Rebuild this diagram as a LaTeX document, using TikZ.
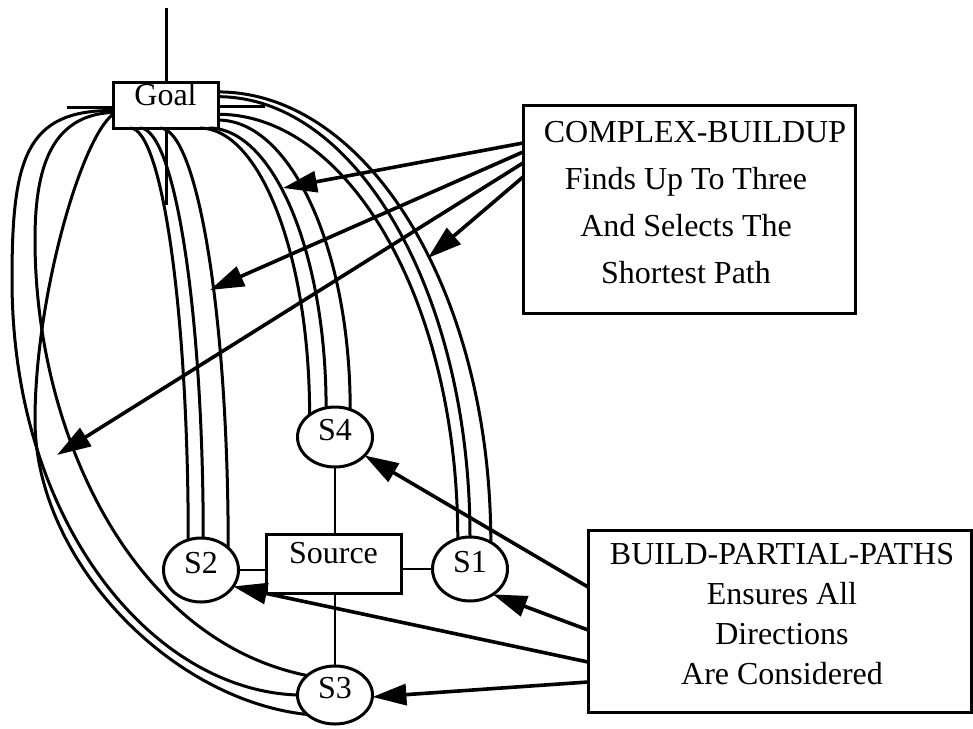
\documentclass[tikz,border=0pt]{standalone}
\usepackage{fontspec}
\setmainfont{Liberation Serif}
\usetikzlibrary{arrows.meta,calc,shapes.geometric}

\tikzset{
  box/.style={draw, line width=1.5pt, rectangle, inner sep=0pt, outer sep=0pt,
              text height=8pt, text depth=8pt},
  site/.style={draw, line width=1.5pt, ellipse, inner sep=0pt, outer sep=0pt,
               minimum width=37.5pt, text height=9pt, text depth=6pt},
  curve/.style={line width=1.5pt},
  link/.style={line width=1.1pt},
  pointer/.style={line width=1.8pt, -{Triangle[length=17pt,width=10.5pt]}},
  note/.style={align=center, inner sep=0pt},
}

% quarter-ellipse path: leaves #1 horizontally, arrives at #2 vertically
\newcommand\quarterarc[2]{%
  \draw[curve] (#1) .. controls ($(#1)!0.552!(#1 -| #2)$)
                         and ($(#2)!0.552!(#1 -| #2)$) .. (#2);}

\begin{document}
\begin{tikzpicture}[x=0.5pt, y=-0.5pt, font=\fontsize{16}{19}\selectfont]
\useasboundingbox (0,0) rectangle (973,728);

% ---- nodes
\node[box, minimum width=52.5pt, minimum height=23pt] (goal) at (165.5,105) {Goal};
\node[box, minimum width=67.5pt, minimum height=29.5pt] (source) at (333.5,563.5) {Source};
\node[site, minimum height=30pt] (s4) at (335,437) {S4};
\node[site, minimum height=32pt] (s2) at (201,570) {S2};
\node[site, minimum height=32pt] (s1) at (470,569) {S1};
\node[site, minimum height=29pt] (s3) at (335,695) {S3};

\node[box, minimum width=166pt, minimum height=104pt] (cb) at (689,209) {};
\node[note, font=\fontsize{16}{23.5}\selectfont] (cbtxt) at (686,203)
  {\hspace*{9pt}COMPLEX-BUILDUP\\Finds Up To Three\\And Selects The\hspace*{11pt}\\Shortest Path};

\node[box, minimum width=191.75pt, minimum height=91pt] (bp) at (779.75,621.5) {};
\node[note, font=\fontsize{16}{20}\selectfont] (bptxt) at (782,614)
  {BUILD-PARTIAL-PATHS\\Ensures All\\Directions\\Are Considered};

% ---- stubs around the goal
\coordinate (gtop)   at (166,8);
\coordinate (gleft)  at (67,107);
\coordinate (gright) at (265,106);
\coordinate (gdrop)  at (166,205);
\draw[curve] (gtop |- goal.north) -- (gtop);
\draw[curve] (gleft -| goal.west) -- (gleft);
\draw[curve] (gright -| goal.east) -- (gright);
\draw[curve] (gdrop |- goal.south) -- (gdrop);

% ---- source to the four sites
\draw[link] (s4.south) -- (s4.south |- source.north);
\draw[link] (source.south -| s3.north) -- (s3.north);
\draw[link] (s2.east) -- (s2.east -| source.west);
\draw[link] (s1.west -| source.east) -- (s1.west);

% ---- paths goal -> S1
\quarterarc{goal.14}{s1.52}
\quarterarc{goal.9}{s1.90}
\quarterarc{goal.-10}{s1.112}

% ---- paths goal -> S4
\quarterarc{goal.-16}{s4.61}
\quarterarc{goal.-28}{s4.107}
\quarterarc{goal.-34}{s4.139}

% ---- paths goal -> S2
\quarterarc{goal.-147}{s2.113}
\quarterarc{goal.-138}{s2.86}
\quarterarc{goal.-104}{s2.39}

% ---- paths goal -> S3, around the left side
\draw[curve] (goal.186) .. controls (25,110) and (12,160) .. (12,280)
                        .. controls (12,520) and (150,690) .. (s3.180);
\draw[curve] (goal.188) .. controls (50,115) and (35,170) .. (35,240)
                        .. controls (35,430) and (130,640) .. (s3.145);
\draw[curve] (goal.190) .. controls (80,140) and (35,300) .. (35,420)
                        .. controls (35,560) and (170,700) .. (s3.215);

% ---- COMPLEX-BUILDUP pointers
\coordinate (tipA) at (283,188);
\coordinate (tipB) at (210,290);
\coordinate (tipC) at (57,455);
\coordinate (tipD) at (428,258);
\draw[pointer] ([yshift=33pt]cb.west) -- (tipA);
\draw[pointer] ([yshift=28.5pt]cb.west) -- (tipB);
\draw[pointer] ([yshift=23pt]cb.west) -- (tipC);
\draw[pointer] ([yshift=16pt]cb.west) -- (tipD);

% ---- BUILD-PARTIAL-PATHS pointers
\draw[pointer] ([yshift=17.25pt]bp.west) -- (s4.-32);
\draw[pointer] ([yshift=-4.25pt]bp.west) -- (s1.-48);
\draw[pointer] ([yshift=-20.25pt]bp.west) -- (s2.-27);
\draw[pointer] ([yshift=-30.25pt]bp.west) -- (s3.-3);
\end{tikzpicture}
\end{document}
